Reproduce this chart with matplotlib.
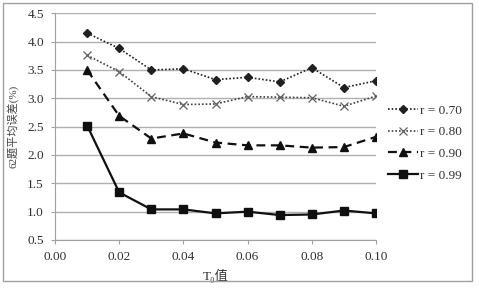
import matplotlib
matplotlib.use("Agg")
import matplotlib.pyplot as plt
from matplotlib.patches import Rectangle

plt.rcParams['font.family'] = ['Liberation Serif', 'Noto Sans CJK SC']

t0 = [0.01, 0.02, 0.03, 0.04, 0.05, 0.06, 0.07, 0.08, 0.09, 0.10]
r070 = [4.15, 3.88, 3.50, 3.52, 3.33, 3.37, 3.29, 3.54, 3.19, 3.31]
r080 = [3.76, 3.47, 3.03, 2.89, 2.90, 3.03, 3.02, 3.01, 2.86, 3.04]
r090 = [3.50, 2.69, 2.29, 2.38, 2.22, 2.17, 2.17, 2.13, 2.14, 2.32]
r099 = [2.52, 1.34, 1.04, 1.04, 0.97, 1.00, 0.94, 0.95, 1.02, 0.97]
labels = ['r = 0.70', 'r = 0.80', 'r = 0.90', 'r = 0.99']
xticks = [0.00, 0.02, 0.04, 0.06, 0.08, 0.10]
yticks = [0.5, 1.0, 1.5, 2.0, 2.5, 3.0, 3.5, 4.0, 4.5]

fig = plt.figure(figsize=(4.79, 2.93), dpi=100)
fig.patches.append(Rectangle((3 / 479, 1 - 281 / 293), 469 / 479, 278 / 293,
                             transform=fig.transFigure, fill=False,
                             edgecolor='#a0a0a0', lw=1))
ax = fig.add_axes([55 / 479, 1 - 240 / 293, 321 / 479, 226.7 / 293])

ax.plot(t0, r070, color='#202020', ls=(0, (1, 1.2)), lw=1.2, marker='D',
        ms=4.5, label=labels[0])
ax.plot(t0, r080, color='#404040', ls=(0, (1, 1.2)), lw=1.2, marker='x',
        ms=5.5, mew=0.9, mec='#606060', label=labels[1])
ax.plot(t0, r090, color='#101010', ls=(0, (4, 2.5)), lw=1.6, marker='^',
        ms=5.5, label=labels[2])
ax.plot(t0, r099, color='#101010', ls='-', lw=1.6, marker='s',
        ms=5.5, label=labels[3])

ax.set_xlim(0, 0.10)
ax.set_ylim(0.5, 4.5)
ax.set_xticks(xticks)
ax.set_xticklabels([f'{v:.2f}' for v in xticks])
ax.set_yticks(yticks)
ax.set_yticklabels([f'{v:.1f}' for v in yticks])
ax.yaxis.grid(True, color='#b0b0b0', lw=1)
ax.set_axisbelow(True)
for s in ['top', 'right']:
    ax.spines[s].set_visible(False)
for s in ['left', 'bottom']:
    ax.spines[s].set_color('#a0a0a0')
ax.tick_params(axis='both', labelsize=9.5, colors='#a0a0a0', length=3,
               width=0.8, direction='out', pad=5)
for lbl in ax.get_xticklabels() + ax.get_yticklabels():
    lbl.set_color('#303030')

ax.set_xlabel('T₀值', fontsize=9.5, color='#303030', labelpad=4)
ax.set_ylabel('62题平均误差(%)', fontsize=8, color='#404040', labelpad=6)

fig.legend(loc='center left', bbox_to_anchor=(376 / 479, 1 - 143 / 293),
           frameon=False, fontsize=9.5, handlelength=2.3, labelspacing=0.72,
           handletextpad=0.15, labelcolor='#303030')

fig.savefig('out.png', dpi=100, facecolor='white')
